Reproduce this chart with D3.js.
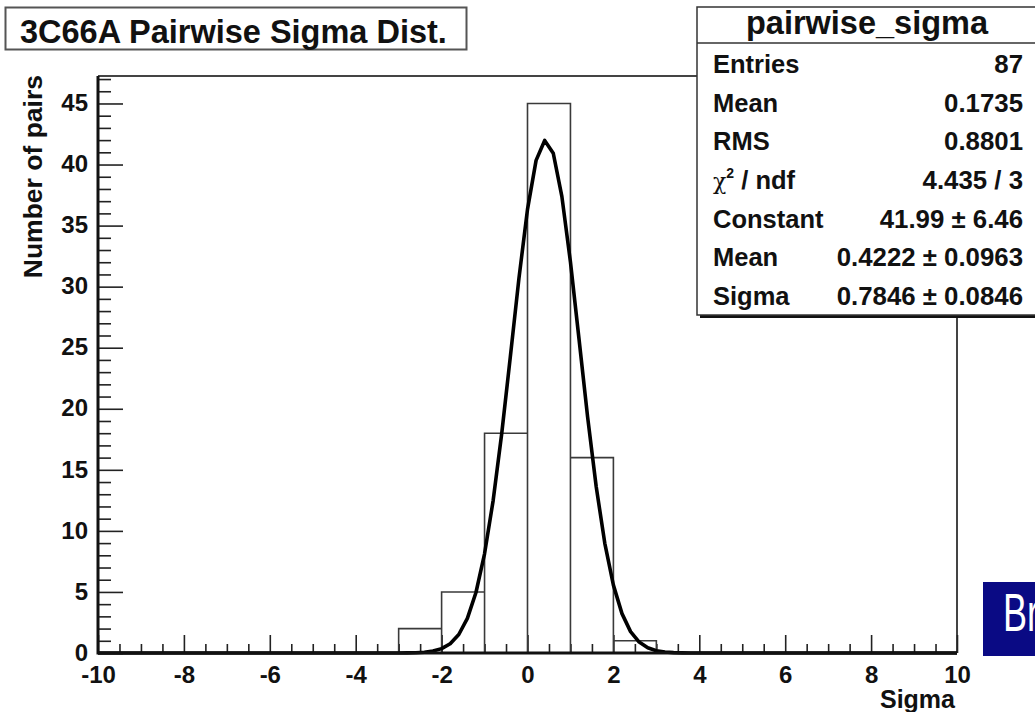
<!DOCTYPE html>
<html>
<head>
<meta charset="utf-8">
<script src="https://cdn.jsdelivr.net/npm/d3@7"></script>
<style>
  html, body { margin: 0; padding: 0; background: #fff; }
  svg { display: block; }
  text { font-family: "Liberation Sans", Arial, Helvetica, sans-serif; font-weight: bold; fill: #111; }
</style>
</head>
<body>
<svg id="chart" width="1035" height="712"></svg>
<script>
// Histogram of pairwise sigma: unit-width bins
const binLow = [-3, -2, -1, 0, 1, 2];
const binCounts = [2, 5, 18, 45, 16, 1];

// Gaussian fit parameters
const fitConstant = 41.99;
const fitMean = 0.4222;
const fitSigma = 0.7846;

// Axis ticks
const xMajorTicks = [-10, -8, -6, -4, -2, 0, 2, 4, 6, 8, 10];
const yMajorTicks = [0, 5, 10, 15, 20, 25, 30, 35, 40, 45];

// Statistics box rows
const statLabels = ["Entries", "Mean", "RMS", "chi2/ndf", "Constant", "Mean", "Sigma"];
const statValues = ["87", "0.1735", "0.8801", "4.435 / 3", "41.99 \u00b1 6.46", "0.4222 \u00b1 0.0963", "0.7846 \u00b1 0.0846"];

const svg = d3.select("#chart");

const x = d3.scaleLinear().domain([-10, 10]).range([98, 957]);
const y = d3.scaleLinear().domain([0, 47.25]).range([653, 76]);

// frame (top and right edges)
svg.append("path")
  .attr("d", `M${x(-10)},${y(47.25)} H${x(10)} V${y(0)}`)
  .attr("fill", "none").attr("stroke", "#444").attr("stroke-width", 2);

// minor ticks
const xMinor = d3.range(-10, 10.001, 0.5).filter(v => Math.abs(v / 2 - Math.round(v / 2)) > 1e-6);
const yMinor = d3.range(0, 47.001, 1).filter(v => v % 5 !== 0);
const plainNumber = d => String(d);

const xAxisMinor = svg.append("g").attr("transform", `translate(0,${y(0)})`)
  .call(d3.axisBottom(x).tickValues(xMinor).tickSize(-9).tickFormat(""));
const xAxis = svg.append("g").attr("transform", `translate(0,${y(0)})`)
  .call(d3.axisBottom(x).tickValues(xMajorTicks).tickSize(-18).tickPadding(10).tickFormat(plainNumber));
const yAxisMinor = svg.append("g").attr("transform", `translate(${x(-10)},0)`)
  .call(d3.axisLeft(y).tickValues(yMinor).tickSize(-13).tickFormat(""));
const yAxis = svg.append("g").attr("transform", `translate(${x(-10)},0)`)
  .call(d3.axisLeft(y).tickValues(yMajorTicks).tickSize(-25).tickPadding(10).tickFormat(plainNumber));

[xAxisMinor, xAxis, yAxisMinor, yAxis].forEach(g => {
  g.selectAll(".domain").remove();
  g.selectAll(".tick line").attr("stroke", "#222").attr("stroke-width", 1.6);
});
xAxis.selectAll(".tick text")
  .attr("dy", null).attr("y", 30)
  .style("font-size", "24px").style("font-family", "Liberation Sans, Arial, sans-serif").style("font-weight", "bold").attr("fill", "#111");
yAxis.selectAll(".tick text")
  .attr("x", -10).attr("dy", "0.3em")
  .style("font-size", "24px").style("font-family", "Liberation Sans, Arial, sans-serif").style("font-weight", "bold").attr("fill", "#111");

// histogram outline
const histPts = [[x(-10), y(0)]];
binLow.forEach((lo, i) => {
  histPts.push([x(lo), y(0)]);
  histPts.push([x(lo), y(binCounts[i])]);
  histPts.push([x(lo + 1), y(binCounts[i])]);
  histPts.push([x(lo + 1), y(0)]);
});
histPts.push([x(10), y(0)]);
svg.append("path")
  .attr("d", d3.line()(histPts))
  .attr("fill", "none").attr("stroke", "#3a3a3a").attr("stroke-width", 1.6);

// gaussian fit curve, sampled at 100 steps across the axis range
const gauss = v => fitConstant * Math.exp(-0.5 * Math.pow((v - fitMean) / fitSigma, 2));
const fitPts = d3.range(0, 101).map(i => -10 + i * 0.2).map(v => [x(v), y(gauss(v))]);
svg.append("path")
  .attr("d", d3.line()(fitPts))
  .attr("fill", "none").attr("stroke", "#000").attr("stroke-width", 3.6).attr("stroke-linejoin", "round");

// axis lines
svg.append("path")
  .attr("d", `M${x(-10)},${y(47.25)} V${y(0)} H${x(10)}`)
  .attr("fill", "none").attr("stroke", "#111").attr("stroke-width", 3);

// axis titles
svg.append("text")
  .attr("transform", `translate(42,75) rotate(-90)`)
  .attr("text-anchor", "end")
  .style("font-size", "26.5px")
  .text("Number of pairs");
svg.append("text")
  .attr("x", 955).attr("y", 708)
  .attr("text-anchor", "end")
  .style("font-size", "25px")
  .text("Sigma");

// title box
svg.append("rect")
  .attr("x", 5.5).attr("y", 7.5).attr("width", 461).attr("height", 42)
  .attr("fill", "#fff").attr("stroke", "#555").attr("stroke-width", 2);
svg.append("text")
  .attr("x", 20).attr("y", 43)
  .style("font-size", "32.5px")
  .text("3C66A Pairwise Sigma Dist.");

// statistics box
const sb = { x: 697, y: 7, w: 345, h: 308 };
svg.append("rect")
  .attr("x", sb.x + 3).attr("y", sb.y + 3).attr("width", sb.w).attr("height", sb.h)
  .attr("fill", "#111");
svg.append("rect")
  .attr("x", sb.x).attr("y", sb.y).attr("width", sb.w).attr("height", sb.h)
  .attr("fill", "#fff").attr("stroke", "#333").attr("stroke-width", 1.5);
svg.append("line")
  .attr("x1", sb.x).attr("x2", sb.x + sb.w).attr("y1", 43).attr("y2", 43)
  .attr("stroke", "#333").attr("stroke-width", 1.5);
svg.append("text")
  .attr("x", 867).attr("y", 34)
  .attr("text-anchor", "middle")
  .style("font-size", "32.5px")
  .text("pairwise_sigma");

const rowBase = d3.scaleLinear().domain([0, 6]).range([73, 305]);
statLabels.forEach((lab, i) => {
  const t = svg.append("text").attr("x", 713).attr("y", rowBase(i)).style("font-size", "25.5px");
  if (lab === "chi2/ndf") {
    t.append("tspan").style("font-weight", "normal").style("font-family", "DejaVu Serif, serif").style("font-size", "22px").text("\u03c7");
    t.append("tspan").attr("dy", -11).style("font-size", "14px").text("2");
    t.append("tspan").attr("dy", 11).text(" / ndf");
  } else {
    t.text(lab);
  }
  svg.append("text")
    .attr("x", 1023).attr("y", rowBase(i))
    .attr("text-anchor", "end")
    .style("font-size", "25.8px")
    .text(statValues[i]);
});

// corner badge
svg.append("rect")
  .attr("x", 983).attr("y", 582).attr("width", 60).attr("height", 74)
  .attr("fill", "#0a0a84");
svg.append("text")
  .attr("transform", "translate(1003,631) scale(0.68,1)")
  .style("font-size", "53px").style("font-weight", "normal").style("fill", "#fff")
  .text("Br");
</script>
</body>
</html>
